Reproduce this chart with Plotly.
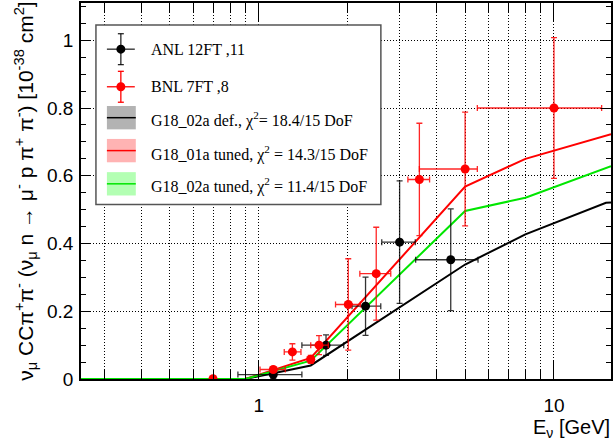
import plotly.graph_objects as go
import numpy as np

# ---------------- data ----------------
# ANL 12FT measurements
anl_E = [1.12, 1.69, 2.30, 3.00, 4.47]
anl_sigma = [0.013, 0.100, 0.215, 0.404, 0.352]
anl_err = [0.012, 0.030, 0.086, 0.181, 0.150]
anl_E_lo = [0.85, 1.40, 2.07, 2.61, 3.40]
anl_E_hi = [1.40, 1.94, 2.59, 3.39, 5.53]

# BNL 7FT measurements
bnl_E = [0.70, 1.12, 1.30, 1.50, 1.60, 2.01, 2.50, 3.50, 5.00, 10.0]
bnl_sigma = [0.001, 0.028, 0.080, 0.058, 0.100, 0.220, 0.311, 0.589, 0.620, 0.800]
bnl_err = [0.003, 0.008, 0.024, 0.012, 0.028, 0.135, 0.137, 0.166, 0.168, 0.208]
bnl_E_lo = [0.70, 1.01, 1.22, 1.46, 1.50, 1.82, 2.20, 3.20, 3.50, 5.50]
bnl_E_hi = [0.70, 1.23, 1.39, 1.54, 1.72, 2.21, 2.80, 3.79, 5.50, 14.5]

# GENIE predictions
def_E = [0.25, 0.90, 1.50, 5.00, 8.00, 15.0, 15.6]
def_sigma = [0.0, 0.0, 0.040, 0.338, 0.427, 0.520, 0.521]
t01_E = [0.25, 0.90, 1.50, 5.00, 8.00, 15.6]
t01_sigma = [0.0, 0.0, 0.062, 0.568, 0.650, 0.723]
t02_E = [0.25, 0.90, 1.50, 5.00, 8.00, 15.6]
t02_sigma = [0.0, 0.0, 0.054, 0.496, 0.535, 0.628]

x_major = [1, 10]
x_minor = [0.3, 0.4, 0.5, 0.6, 0.7, 0.8, 0.9, 2, 3, 4, 5, 6, 7, 8, 9]
y_major = [0, 0.2, 0.4, 0.6, 0.8, 1.0]
y_labels = ["0", "0.2", "0.4", "0.6", "0.8", "1"]

legend_labels = [
    "ANL 12FT ,11",
    "BNL 7FT ,8",
    "G18_02a def., χ<sup>2</sup>= 18.4/15 DoF",
    "G18_01a tuned, χ<sup>2</sup> = 14.3/15 DoF",
    "G18_02a tuned, χ<sup>2</sup> = 11.4/15 DoF",
]

# ---------------- figure geometry ----------------
W, H = 614, 443
ML, MR, MT, MB = 81, 1, 2, 64
PW, PH = W - ML - MR, H - MT - MB


def px_x(p):
    return (p - ML) / PW


def px_y(p):
    return (H - MB - p) / PH


BLACK = "black"
RED = "#ff0000"
GREEN = "#00e600"

fig = go.Figure()

# model curves
for E, s, c in [(def_E, def_sigma, BLACK), (t01_E, t01_sigma, RED), (t02_E, t02_sigma, GREEN)]:
    fig.add_trace(go.Scatter(x=E, y=s, mode="lines", line=dict(color=c, width=2),
                             showlegend=False, hoverinfo="skip"))


def asym(center, lo, hi):
    plus = [h - c for c, h in zip(center, hi)]
    minus = [c - l for c, l in zip(center, lo)]
    return plus, minus


for E, s, e, lo, hi, c, ec in [
    (anl_E, anl_sigma, anl_err, anl_E_lo, anl_E_hi, BLACK, "rgba(0,0,0,0.8)"),
    (bnl_E, bnl_sigma, bnl_err, bnl_E_lo, bnl_E_hi, RED, "rgba(255,0,0,0.85)"),
]:
    xp, xm = asym(E, lo, hi)
    fig.add_trace(go.Scatter(
        x=E, y=s, mode="markers",
        marker=dict(color=c, size=9, symbol="circle"),
        error_y=dict(type="data", array=e, color=ec, thickness=1.3, width=3),
        error_x=dict(type="data", array=xp, arrayminus=xm, color=ec, thickness=1.3, width=3),
        showlegend=False, hoverinfo="skip"))

# ---------------- legend box ----------------
shapes = []
annotations = []
LX0, LY0, LX1, LY1 = 96, 24, 382, 204
shapes.append(dict(type="rect", xref="paper", yref="paper",
                   x0=px_x(LX0), x1=px_x(LX1), y0=px_y(LY1), y1=px_y(LY0),
                   fillcolor="white", line=dict(color="#555555", width=1.5), layer="above"))

sym_cx = 121
text_x = 149
rows = [48.3, 86, 117, 150, 183.3]
text_rows = [48.3, 86, 119, 153, 185]

# data-point symbols
for i, (c, ec) in enumerate([(BLACK, "rgba(0,0,0,0.85)"), (RED, RED)]):
    cy = rows[i]
    shapes.append(dict(type="line", xref="paper", yref="paper",
                       x0=px_x(sym_cx - 14), x1=px_x(sym_cx + 14), y0=px_y(cy), y1=px_y(cy),
                       line=dict(color=ec, width=1.3), layer="above"))
    shapes.append(dict(type="line", xref="paper", yref="paper",
                       x0=px_x(sym_cx), x1=px_x(sym_cx), y0=px_y(cy - 15.5), y1=px_y(cy + 15.5),
                       line=dict(color=ec, width=1.3), layer="above"))
    for dy in (-15.5, 15.5):
        shapes.append(dict(type="line", xref="paper", yref="paper",
                           x0=px_x(sym_cx - 3), x1=px_x(sym_cx + 3), y0=px_y(cy + dy), y1=px_y(cy + dy),
                           line=dict(color=ec, width=1.3), layer="above"))
    shapes.append(dict(type="circle", xref="paper", yref="paper",
                       x0=px_x(sym_cx - 4.5), x1=px_x(sym_cx + 4.5),
                       y0=px_y(cy + 4.5), y1=px_y(cy - 4.5),
                       fillcolor=c, line=dict(color=c, width=0), layer="above"))

# band symbols
for i, (band, c) in enumerate([("rgb(179,179,179)", BLACK),
                               ("rgb(255,179,179)", RED),
                               ("rgb(179,255,179)", GREEN)]):
    cy = rows[2 + i]
    shapes.append(dict(type="rect", xref="paper", yref="paper",
                       x0=px_x(107), x1=px_x(136), y0=px_y(cy + 11.7), y1=px_y(cy - 11.7),
                       fillcolor=band, line=dict(width=0), layer="above"))
    shapes.append(dict(type="line", xref="paper", yref="paper",
                       x0=px_x(107), x1=px_x(136), y0=px_y(cy), y1=px_y(cy),
                       line=dict(color=c, width=1.5), layer="above"))

for lbl, ty in zip(legend_labels, text_rows):
    annotations.append(dict(text=lbl, xref="paper", yref="paper", x=px_x(text_x), y=px_y(ty),
                            xanchor="left", yanchor="middle", showarrow=False,
                            font=dict(family="Liberation Serif", size=16, color="black")))

# axis titles
annotations.append(dict(
    text="ν<sub>μ</sub> CCπ<sup>+</sup>π<sup>-</sup> (ν<sub>μ</sub> n → μ<sup>-</sup> p π<sup>+</sup> π<sup>-</sup>) [10<sup>-38</sup> cm<sup>2</sup>]",
    xref="paper", yref="paper", x=px_x(25), y=px_y(-1), xanchor="center", yanchor="top",
    textangle=-90, showarrow=False,
    font=dict(family="Liberation Sans", size=21, color="black")))
annotations.append(dict(
    text="E<sub>ν</sub> [GeV]", xref="paper", yref="paper", x=1.0 + 1 / PW, y=px_y(429),
    xanchor="right", yanchor="middle", showarrow=False,
    font=dict(family="Liberation Sans", size=20, color="black")))

grid_dash = "1px,2px"

fig.update_layout(
    width=W, height=H,
    margin=dict(l=ML, r=MR, t=MT, b=MB, pad=0),
    paper_bgcolor="white", plot_bgcolor="white",
    showlegend=False,
    shapes=shapes, annotations=annotations,
    xaxis=dict(
        type="log", range=[np.log10(0.25), np.log10(15.6)],
        tickmode="array", tickvals=x_major, ticktext=["1", "10"],
        ticks="inside", ticklen=19, tickwidth=1, tickcolor="black",
        showgrid=True, gridcolor="black", gridwidth=1, griddash=grid_dash,
        minor=dict(tickmode="array", tickvals=x_minor, ticks="inside", ticklen=10,
                   tickwidth=1, tickcolor="black", showgrid=True, gridcolor="black",
                   gridwidth=1, griddash=grid_dash),
        showline=True, linecolor="black", linewidth=1.5, mirror="ticks",
        tickfont=dict(family="Liberation Sans", size=19, color="black"),
        ticklabelstandoff=8,
        zeroline=False,
    ),
    yaxis=dict(
        range=[0, 1.11],
        tickmode="array", tickvals=y_major, ticktext=y_labels,
        ticks="inside", ticklen=10, tickwidth=1, tickcolor="black",
        showgrid=True, gridcolor="black", gridwidth=1, griddash=grid_dash,
        minor=dict(dtick=0.05, ticks="inside", ticklen=5, tickwidth=1, tickcolor="black",
                   showgrid=False),
        showline=True, linecolor="black", linewidth=1.5, mirror="ticks",
        tickfont=dict(family="Liberation Sans", size=19, color="black"),
        ticklabelstandoff=2,
        zeroline=False,
    ),
)

fig.write_html("out.html")
